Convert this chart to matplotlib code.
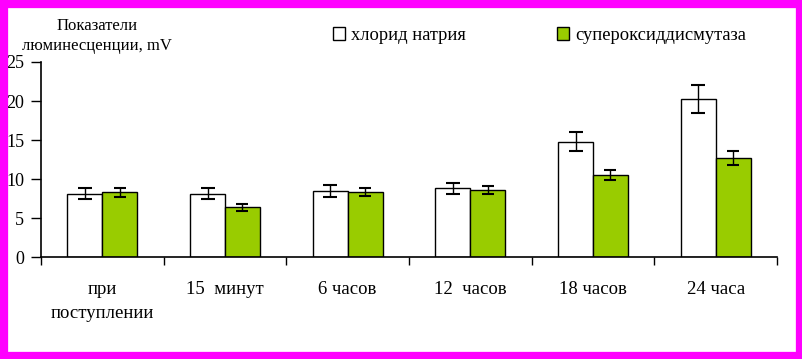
import numpy as np
import matplotlib.pyplot as plt
from matplotlib.patches import Rectangle

plt.rcParams['font.family'] = ['Liberation Serif', 'DejaVu Serif']

categories = ['при\nпоступлении', '15  минут', '6 часов', '12  часов', '18 часов', '24 часа']
nacl = [8.1, 8.1, 8.5, 8.8, 14.8, 20.2]
nacl_err = [0.7, 0.7, 0.75, 0.75, 1.25, 1.8]
sod = [8.3, 6.4, 8.3, 8.6, 10.5, 12.7]
sod_err = [0.6, 0.45, 0.5, 0.5, 0.6, 0.9]
series_names = ['хлорид натрия', 'супероксиддисмутаза']

fig = plt.figure(figsize=(8.03, 3.59), dpi=100)
ax = fig.add_axes([0.0511, 0.2841, 0.9165, 0.5432])

x = np.arange(len(categories))
w = 0.285
ax.bar(x - w/2, nacl, w, color='white', edgecolor='black', linewidth=1,
       yerr=nacl_err, error_kw=dict(ecolor='black', elinewidth=1, capsize=5, capthick=1.5),
       label=series_names[0])
ax.bar(x + w/2, sod, w, color='#99cc00', edgecolor='black', linewidth=1,
       yerr=sod_err, error_kw=dict(ecolor='black', elinewidth=1, capsize=4, capthick=1.5),
       label=series_names[1])

ax.set_xlim(-0.5, len(categories) - 0.5)
ax.set_ylim(0, 25)
ax.set_yticks([0, 5, 10, 15, 20, 25])
ax.set_xticks(np.arange(len(categories) + 1) - 0.5)
ax.set_xticklabels([])
ax.tick_params(axis='x', length=6, width=1, direction='out')
ax.tick_params(axis='y', length=7, width=1, direction='out', labelsize=13, pad=5)
for i, c in enumerate(categories):
    ax.text(i, -3.1, c, ha='center', va='top', fontsize=13.5, linespacing=1.5)

ax.spines['top'].set_visible(False)
ax.spines['right'].set_visible(False)
ax.spines['left'].set_linewidth(1.2)
ax.spines['bottom'].set_linewidth(1.2)

fig.text(97/803, 1 - 36/359, 'Показатели\nлюминесценции, mV', ha='center', va='center',
         fontsize=12, linespacing=1.3)

fig.legend(loc='upper left', bbox_to_anchor=(333/803, 1 - 27/359), ncol=2, frameon=False,
           fontsize=13.3, columnspacing=4.9, handlelength=0.65, handleheight=0.65,
           handletextpad=0.35, borderpad=0, borderaxespad=0)

fig.patches.append(Rectangle((0, 0), 1, 1, transform=fig.transFigure, fill=False,
                             edgecolor='#ff00ff', linewidth=11, zorder=10))

fig.savefig('out.png', dpi=100)
